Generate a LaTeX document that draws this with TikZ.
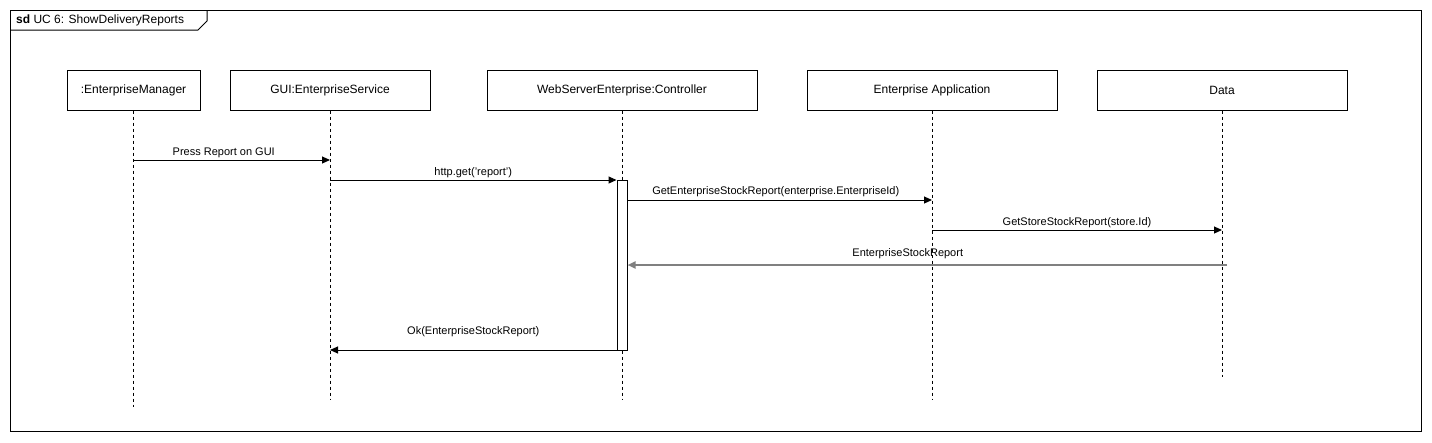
\documentclass[tikz,border=0pt]{standalone}
\usepackage{fontspec}
\setmainfont{Liberation Sans}
\usetikzlibrary{arrows.meta}
\definecolor{replygray}{HTML}{808080}

\begin{document}
\begin{tikzpicture}[x=1pt,y=-1pt]
\tikzset{
  umltext/.style={font=\fontsize{11}{13}\selectfont},
  boxtext/.style={font=\fontsize{12}{14}\selectfont},
  lifebox/.style={boxtext,rectangle,draw=black,line width=1pt,minimum width=#1,minimum height=40pt,inner sep=0pt},
  lifeline/.style={draw=black,line width=0.8pt,dash pattern=on 3pt off 3pt},
  activation/.style={rectangle,draw=black,fill=white,line width=1pt,minimum width=10pt,minimum height=170pt,inner sep=0pt},
  msg/.style={draw=black,line width=1pt,-{Triangle[length=8pt,width=7pt]}},
  reply/.style={draw=replygray,line width=2pt,-{Triangle[length=8pt,width=7pt]}},
  msglabel/.style={umltext,anchor=base,inner sep=0pt}
}
\useasboundingbox (0,0) rectangle (1432,442);
% frame
\draw[line width=1pt] (10,10) rectangle (1421,431);
\draw[line width=1pt] (10,30) -- (198,30) -- (207,21) -- (207,10);
\node[boxtext,anchor=west,inner sep=0pt] (title) at (16,20) {\textbf{sd} UC 6: ShowDeliveryReports};
% lifelines
\node[lifebox=133pt] (mgr) at (133.5,90) {:EnterpriseManager};
\node[lifebox=200pt] (gui) at (330,90) {GUI:EnterpriseService};
\node[lifebox=270pt] (ctrl) at (622,90) {WebServerEnterprise:Controller};
\node[lifebox=250pt] (app) at (932,90) {Enterprise Application};
\node[lifebox=250pt] (data) at (1222,90) {Data};
\coordinate (mgr_end) at (133.5,407);
\coordinate (gui_end) at (330,400);
\coordinate (ctrl_end) at (622,400);
\coordinate (app_end) at (932,400);
\coordinate (data_end) at (1222,377);
\draw[lifeline] (mgr) -- (mgr_end);
\draw[lifeline] (gui) -- (gui_end);
\draw[lifeline] (ctrl) -- (ctrl_end);
\draw[lifeline] (app) -- (app_end);
\draw[lifeline] (data) -- (data_end);
\node[activation] (act) at (622,265) {};
% message rows
\coordinate (r1) at (0,160);
\coordinate (r2) at (0,180);
\coordinate (r3) at (0,200);
\coordinate (r4) at (0,230);
\coordinate (r5) at (0,265);
\coordinate (r6) at (0,350);
\draw[msg] (mgr |- r1) -- (gui |- r1) node[midway,msglabel,yshift=5pt,xshift=-8pt] {Press Report on GUI};
\draw[msg] (gui |- r2) -- (act.west |- r2) node[midway,msglabel,yshift=5pt] {http.get('report')};
\draw[msg] (act.east |- r3) -- (app |- r3) node[midway,msglabel,yshift=6pt,xshift=-4pt] {GetEnterpriseStockReport(enterprise.EnterpriseId)};
\draw[msg] (app |- r4) -- (data |- r4) node[midway,msglabel,yshift=5pt] {GetStoreStockReport(store.Id)};
\draw[reply,shorten <=-5pt] (data |- r5) -- (act.east |- r5) node[midway,msglabel,yshift=9pt,xshift=-17pt] {EnterpriseStockReport};
\draw[msg] (act.west |- r6) -- (gui |- r6) node[midway,msglabel,yshift=16pt] {Ok(EnterpriseStockReport)};
\end{tikzpicture}
\end{document}
